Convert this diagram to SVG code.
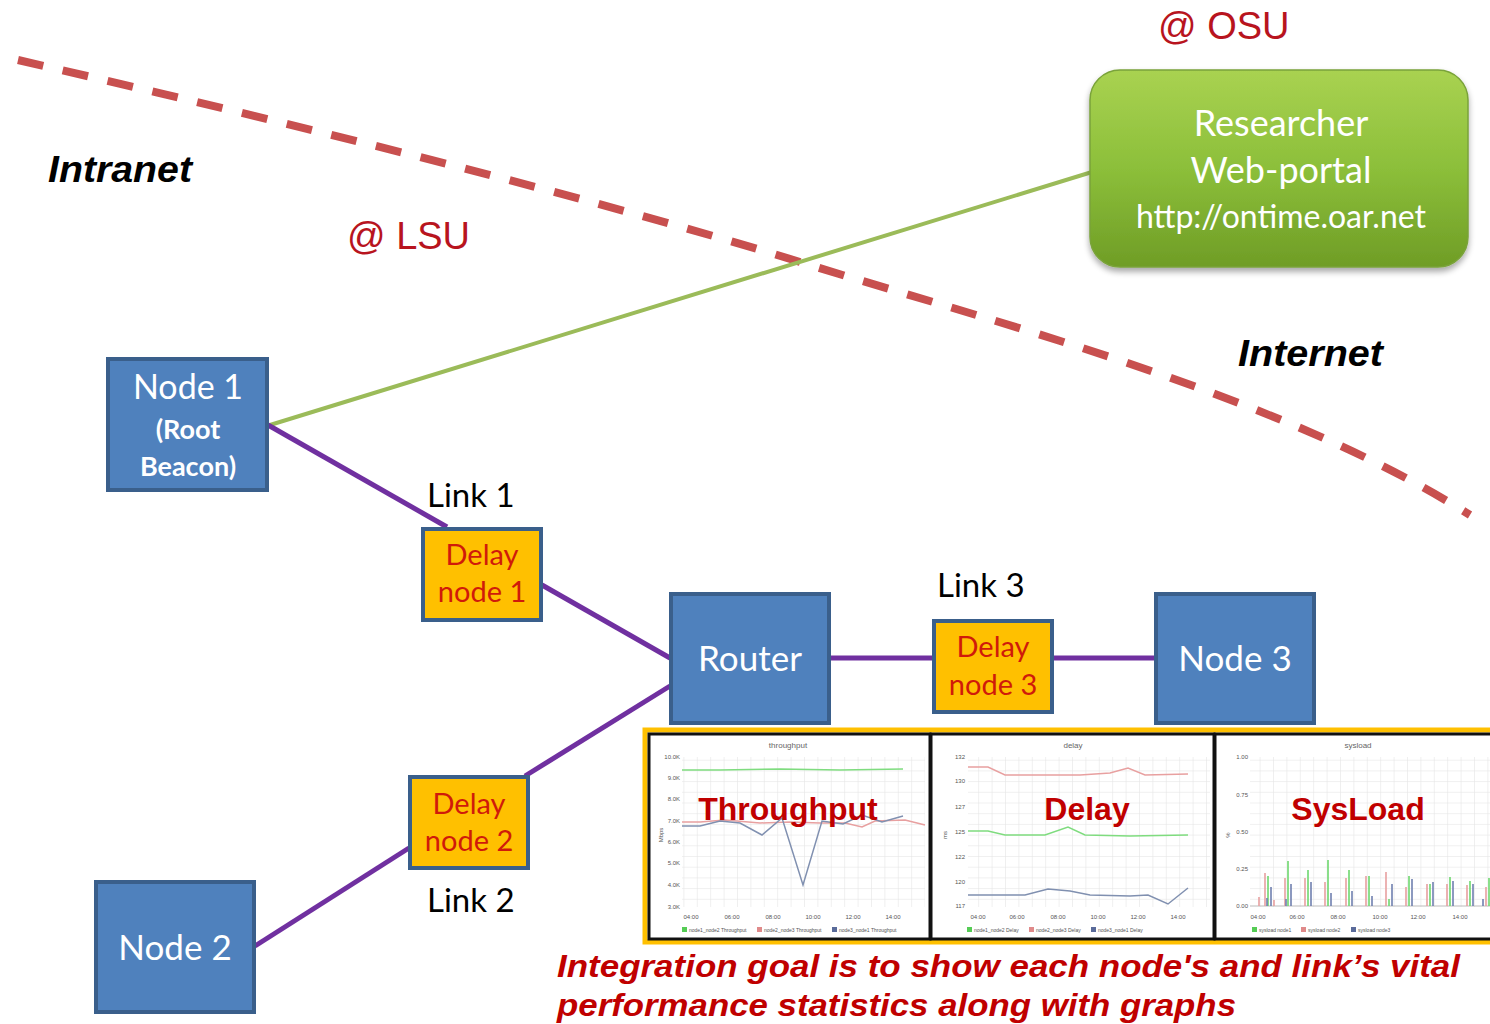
<svg xmlns="http://www.w3.org/2000/svg" width="1490" height="1024" viewBox="0 0 1490 1024">
<style>
.node{fill:#4f81bd;stroke:#3a5f8b;stroke-width:4}
.delay{fill:#ffc000;stroke:#3a5f8b;stroke-width:4}
.nt{font-family:Lato,"Open Sans",sans-serif;fill:#ffffff;text-anchor:middle}
.dt{font-family:Lato,"Open Sans",sans-serif;fill:#d01a0a;text-anchor:middle;font-size:29px}
.lt{font-family:Lato,"Open Sans",sans-serif;fill:#000;font-size:33px}
.zone{font-family:"Liberation Sans",Arial,sans-serif;font-weight:bold;font-style:italic;font-size:37px;fill:#000}
.at{font-family:"Liberation Sans",Arial,sans-serif;font-size:38px;fill:#b8141e}
.link{stroke:#7030a0;stroke-width:5;fill:none}
.big{font-family:"Liberation Sans",Arial,sans-serif;font-weight:bold;font-size:32px;fill:#c00000;text-anchor:middle}
.tiny{font-family:"Liberation Sans",Arial,sans-serif;font-size:5px;fill:#555}
.tinyr{font-family:"Liberation Sans",Arial,sans-serif;font-size:6px;fill:#555;text-anchor:end}
.tinym{font-family:"Liberation Sans",Arial,sans-serif;font-size:6px;fill:#555;text-anchor:middle}
.title{font-family:"Liberation Sans",Arial,sans-serif;font-size:8px;fill:#666;text-anchor:middle}
.panel{fill:#fff;stroke:#111;stroke-width:3}
.cap{font-family:"Liberation Sans",Arial,sans-serif;font-weight:bold;font-style:italic;font-size:32px;fill:#c00000}
</style>
<defs>
<linearGradient id="gg" x1="0" y1="0" x2="0" y2="1">
<stop offset="0" stop-color="#a9d251"/>
<stop offset="0.5" stop-color="#8cbf3a"/>
<stop offset="1" stop-color="#6f9d26"/>
</linearGradient>
<filter id="sh" x="-10%" y="-10%" width="120%" height="130%">
<feGaussianBlur in="SourceAlpha" stdDeviation="3"/>
<feOffset dx="0" dy="4" result="o"/>
<feComponentTransfer><feFuncA type="linear" slope="0.35"/></feComponentTransfer>
<feMerge><feMergeNode/><feMergeNode in="SourceGraphic"/></feMerge>
</filter>
<pattern id="grid" width="13.4" height="10.7" patternUnits="userSpaceOnUse">
<rect width="13.4" height="10.7" fill="#fff"/>
<path d="M0,0 H13.4 M0,0 V10.7" stroke="#e2e2e2" stroke-width="1" fill="none"/>
</pattern>
<clipPath id="clipAll"><rect x="0" y="0" width="1490" height="1024"/></clipPath>
</defs>
<rect width="1490" height="1024" fill="#fff"/>

<g id="boundary">
<path d="M18,60 C300,125 600,200 800,262 S1280,395 1470,515" fill="none" stroke="#c8504f" stroke-width="8" stroke-dasharray="26,20"/>
</g>

<g id="connectors">
<line x1="270" y1="425" x2="1092" y2="172" stroke="#9bbb59" stroke-width="4"/>
<line class="link" x1="268" y1="425" x2="447" y2="527"/>
<line class="link" x1="542" y1="585" x2="670" y2="658"/>
<line class="link" x1="670" y1="686" x2="525" y2="776"/>
<line class="link" x1="409" y1="848" x2="255" y2="946"/>
<line class="link" x1="830" y1="658" x2="933" y2="658"/>
<line class="link" x1="1053" y1="658" x2="1155" y2="658"/>
</g>

<g id="labels">
<text class="zone" x="48" y="182" textLength="144" lengthAdjust="spacingAndGlyphs">Intranet</text>
<text class="zone" x="1238" y="366" textLength="145" lengthAdjust="spacingAndGlyphs">Internet</text>
<text class="at" x="347" y="249">@ LSU</text>
<text class="at" x="1158" y="39">@ OSU</text>
<text class="lt" x="427" y="507">Link 1</text>
<text class="lt" x="937" y="597">Link 3</text>
<text class="lt" x="427" y="912">Link 2</text>
</g>

<g id="researcher">
<rect x="1090" y="70" width="378" height="197" rx="30" fill="url(#gg)" stroke="#7aa33a" stroke-width="1.5" filter="url(#sh)"/>
<text class="nt" x="1281" y="136" font-size="36" fill="#eef6e0">Researcher</text>
<text class="nt" x="1281" y="183" font-size="36" fill="#eef6e0">Web-portal</text>
<text class="nt" x="1281" y="228" font-size="32" fill="#eef6e0">http://ontime.oar.net</text>
</g>

<g id="node1">
<rect class="node" x="108" y="359" width="159" height="131"/>
<text class="nt" x="188" y="399" font-size="34">Node 1</text>
<text class="nt" x="188" y="439" font-size="27" font-weight="bold">(Root</text>
<text class="nt" x="188" y="476" font-size="27" font-weight="bold">Beacon)</text>
</g>

<g id="delay1">
<rect class="delay" x="423" y="529" width="118" height="91"/>
<text class="dt" x="482" y="565">Delay</text>
<text class="dt" x="482" y="602">node 1</text>
</g>

<g id="router">
<rect class="node" x="671" y="594" width="158" height="129"/>
<text class="nt" x="750" y="671" font-size="35">Router</text>
</g>

<g id="delay3">
<rect class="delay" x="934" y="621" width="118" height="91"/>
<text class="dt" x="993" y="657">Delay</text>
<text class="dt" x="993" y="695">node 3</text>
</g>

<g id="node3">
<rect class="node" x="1156" y="594" width="158" height="129"/>
<text class="nt" x="1235" y="671" font-size="35">Node 3</text>
</g>

<g id="delay2">
<rect class="delay" x="410" y="777" width="118" height="91"/>
<text class="dt" x="469" y="814">Delay</text>
<text class="dt" x="469" y="851">node 2</text>
</g>

<g id="node2">
<rect class="node" x="96" y="882" width="158" height="130"/>
<text class="nt" x="175" y="960" font-size="35">Node 2</text>
</g>

<g id="graphs" clip-path="url(#clipAll)">
<rect x="645" y="730" width="860" height="212" fill="none" stroke="#ffc000" stroke-width="5"/>
<rect class="panel" x="649" y="734" width="281" height="205"/>
<rect class="panel" x="931" y="734" width="283" height="205"/>
<rect class="panel" x="1215" y="734" width="290" height="205"/>

<!-- throughput -->
<rect x="682" y="757" width="243" height="150" fill="url(#grid)"/>
<text class="title" x="788" y="748">throughput</text>
<g class="tinyr">
<text x="680" y="759">10.0K</text><text x="680" y="780">9.0K</text><text x="680" y="801">8.0K</text><text x="680" y="823">7.0K</text>
<text x="680" y="844">6.0K</text><text x="680" y="865">5.0K</text><text x="680" y="887">4.0K</text><text x="680" y="909">3.0K</text>
</g>
<text class="tinym" transform="translate(663,835) rotate(-90)">Mbps</text>
<g class="tinym">
<text x="691" y="919">04:00</text><text x="732" y="919">06:00</text><text x="773" y="919">08:00</text>
<text x="813" y="919">10:00</text><text x="853" y="919">12:00</text><text x="893" y="919">14:00</text>
</g>
<polyline points="682,770 720,770 780,769 840,770 903,769" fill="none" stroke="#7fdc7f" stroke-width="1.5"/>
<polyline points="682,822 700,822 725,820 760,823 790,822 820,823 845,823 862,827 875,821 905,820 925,825" fill="none" stroke="#e8a0a0" stroke-width="1.5"/>
<polyline points="682,826 700,826 720,821 740,823 762,835 782,818 803,885 822,821 843,824 862,815 882,822 903,816" fill="none" stroke="#8090b0" stroke-width="1.5"/>
<rect x="682" y="927" width="5" height="5" fill="#55cc55"/><text class="tiny" x="689" y="932">node1_node2 Throughput</text>
<rect x="757" y="927" width="5" height="5" fill="#e08a8a"/><text class="tiny" x="764" y="932">node2_node3 Throughput</text>
<rect x="832" y="927" width="5" height="5" fill="#5a6b9a"/><text class="tiny" x="839" y="932">node3_node1 Throughput</text>
<text class="big" x="788" y="820">Throughput</text>

<!-- delay -->
<rect x="968" y="757" width="242" height="150" fill="url(#grid)"/>
<text class="title" x="1073" y="748">delay</text>
<g class="tinyr">
<text x="965" y="759">132</text><text x="965" y="783">130</text><text x="965" y="809">127</text><text x="965" y="834">125</text>
<text x="965" y="859">122</text><text x="965" y="884">120</text><text x="965" y="908">117</text>
</g>
<text class="tinym" transform="translate(947,835) rotate(-90)">ms</text>
<g class="tinym">
<text x="978" y="919">04:00</text><text x="1017" y="919">06:00</text><text x="1058" y="919">08:00</text>
<text x="1098" y="919">10:00</text><text x="1138" y="919">12:00</text><text x="1178" y="919">14:00</text>
</g>
<polyline points="968,767 988,767 1005,775 1050,775 1080,775 1110,773 1128,768 1145,775 1188,774" fill="none" stroke="#e8a0a0" stroke-width="1.5"/>
<polyline points="968,831 988,831 1005,835 1045,835 1068,827 1085,835 1130,836 1188,835" fill="none" stroke="#7fdc7f" stroke-width="1.5"/>
<polyline points="968,895 1025,895 1048,889 1070,891 1090,895 1130,896 1148,895 1168,904 1188,888" fill="none" stroke="#8090b0" stroke-width="1.5"/>
<rect x="967" y="927" width="5" height="5" fill="#55cc55"/><text class="tiny" x="974" y="932">node1_node2 Delay</text>
<rect x="1029" y="927" width="5" height="5" fill="#e08a8a"/><text class="tiny" x="1036" y="932">node2_node3 Delay</text>
<rect x="1091" y="927" width="5" height="5" fill="#5a6b9a"/><text class="tiny" x="1098" y="932">node3_node1 Delay</text>
<text class="big" x="1087" y="820">Delay</text>

<!-- sysload -->
<rect x="1250" y="757" width="245" height="150" fill="url(#grid)"/>
<text class="title" x="1358" y="748">sysload</text>
<g class="tinyr">
<text x="1248" y="759">1.00</text><text x="1248" y="797">0.75</text><text x="1248" y="834">0.50</text>
<text x="1248" y="871">0.25</text><text x="1248" y="908">0.00</text>
</g>
<text class="tinym" transform="translate(1230,835) rotate(-90)">%</text>
<g class="tinym">
<text x="1258" y="919">04:00</text><text x="1297" y="919">06:00</text><text x="1338" y="919">08:00</text>
<text x="1380" y="919">10:00</text><text x="1418" y="919">12:00</text><text x="1460" y="919">14:00</text>
</g>
<line x1="1250" y1="906" x2="1495" y2="906" stroke="#bbb" stroke-width="1"/>
<g fill="none" stroke-width="1.6">
<path stroke="#e8a0a0" d="M1265,906 V873 M1285,906 V878 M1305,906 V878 M1325,906 V882 M1346,906 V878 M1366,906 V876 M1386,906 V872 M1406,906 V887 M1427,906 V884 M1447,906 V884 M1467,906 V885 M1486,906 V887 M1259,906 V897 M1274,906 V900"/>
<path stroke="#6fd86f" d="M1268,906 V876 M1288,906 V861 M1308,906 V870 M1328,906 V860 M1349,906 V870 M1369,906 V876 M1389,906 V899 M1409,906 V876 M1430,906 V884 M1450,906 V877 M1470,906 V881 M1489,906 V878"/>
<path stroke="#7080b0" d="M1271,906 V887 M1291,906 V884 M1311,906 V882 M1331,906 V893 M1352,906 V891 M1372,906 V896 M1392,906 V884 M1412,906 V879 M1433,906 V882 M1453,906 V881 M1473,906 V884 M1483,906 V899 M1267,906 V898 M1286,906 V899"/>
</g>
<rect x="1252" y="927" width="5" height="5" fill="#55cc55"/><text class="tiny" x="1259" y="932">sysload node1</text>
<rect x="1301" y="927" width="5" height="5" fill="#e08a8a"/><text class="tiny" x="1308" y="932">sysload node2</text>
<rect x="1351" y="927" width="5" height="5" fill="#5a6b9a"/><text class="tiny" x="1358" y="932">sysload node3</text>
<text class="big" x="1358" y="820">SysLoad</text>
</g>

<g id="caption">
<text class="cap" x="557" y="977" textLength="903" lengthAdjust="spacingAndGlyphs">Integration goal is to show each node's and link’s vital</text>
<text class="cap" x="557" y="1016" textLength="679" lengthAdjust="spacingAndGlyphs">performance statistics along with graphs</text>
</g>
</svg>
